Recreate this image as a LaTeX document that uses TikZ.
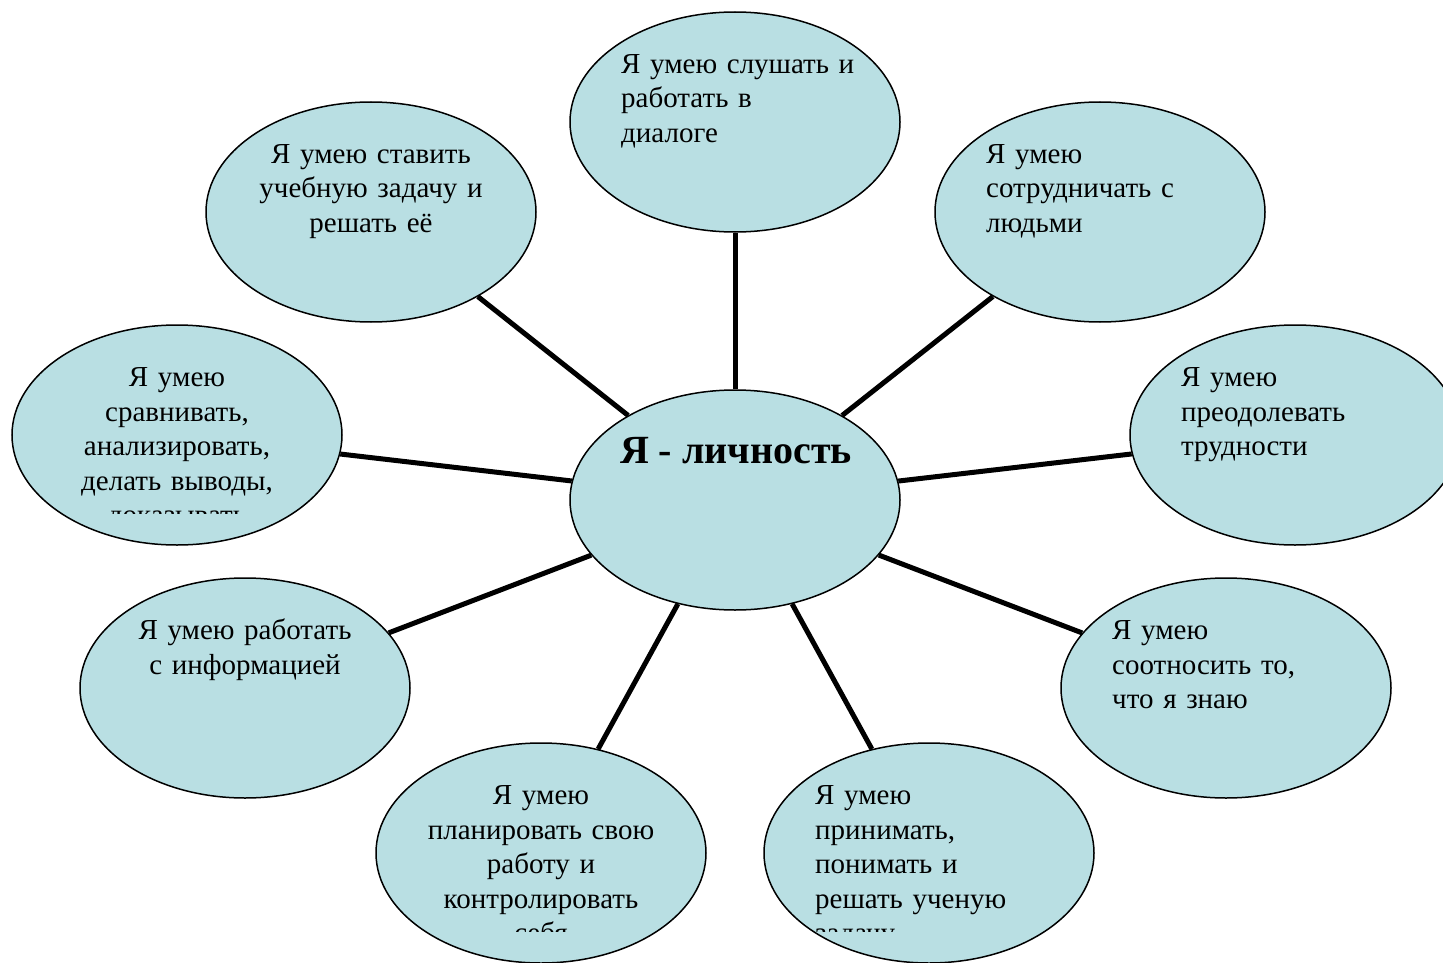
\documentclass[tikz,border=0pt]{standalone}
\usepackage{fontspec}
\setmainfont{Liberation Serif}
\usetikzlibrary{shapes.geometric}
\definecolor{bubfill}{RGB}{185,223,227}
\tikzset{
  bub/.style={ellipse, draw=black, line width=1.5pt, fill=bubfill,
    minimum width=330pt, minimum height=220pt, inner sep=0pt},
  txt/.style={inner sep=0pt, text width=300pt, font=\fontsize{29}{34.5}\selectfont},
  conn/.style={draw=black, line width=5pt}
}
\newcommand\bubL[4]{%
  \node[bub] (#1) at (#2,#3) {};
  \begin{scope}
    \clip ({#2-170},{#3-79}) rectangle ({#2+170},{#3+78});
    \node[txt, align=left, anchor=base west] (#1t) at ({#2-114},{#3-48.5}) {#4};
  \end{scope}}
\newcommand\bubC[4]{%
  \node[bub] (#1) at (#2,#3) {};
  \begin{scope}
    \clip ({#2-170},{#3-79}) rectangle ({#2+170},{#3+78});
    \node[txt, align=center, anchor=base] (#1t) at ({#2},{#3-48.5}) {#4};
  \end{scope}}
\begin{document}
\begin{tikzpicture}[x=1pt, y=-1pt]
\useasboundingbox (0,0) rectangle (1443,963);
\bubL{n1}{735}{122}{Я умею слушать и\\работать в\\диалоге}
\bubC{n2}{371}{212}{Я умею ставить\\учебную задачу и\\решать её}
\bubL{n3}{1100}{212}{Я умею\\сотрудничать с\\людьми}
\bubC{n4}{177}{435}{Я умею\\сравнивать,\\анализировать,\\делать выводы,\\доказывать}
\bubL{n5}{1295}{435}{Я умею\\преодолевать\\трудности}
\bubC{n6}{245}{688}{Я умею работать\\с информацией}
\bubL{n7}{1226}{688}{Я умею\\соотносить то,\\что я знаю}
\bubC{n8}{541}{853}{Я умею\\планировать свою\\работу и\\контролировать\\себя}
\bubL{n9}{929}{853}{Я умею\\принимать,\\понимать и\\решать ученую\\задачу}
\node[bub] (c) at (735,500) {};
\node[inner sep=0pt, anchor=base, font=\fontsize{40}{44}\selectfont\bfseries] (ct) at (736,463) {Я - личность};
\foreach \n in {n1,n2,n3,n4,n5,n6,n7,n8,n9}{
  \draw[conn] (c) -- (\n);
}
\end{tikzpicture}
\end{document}
